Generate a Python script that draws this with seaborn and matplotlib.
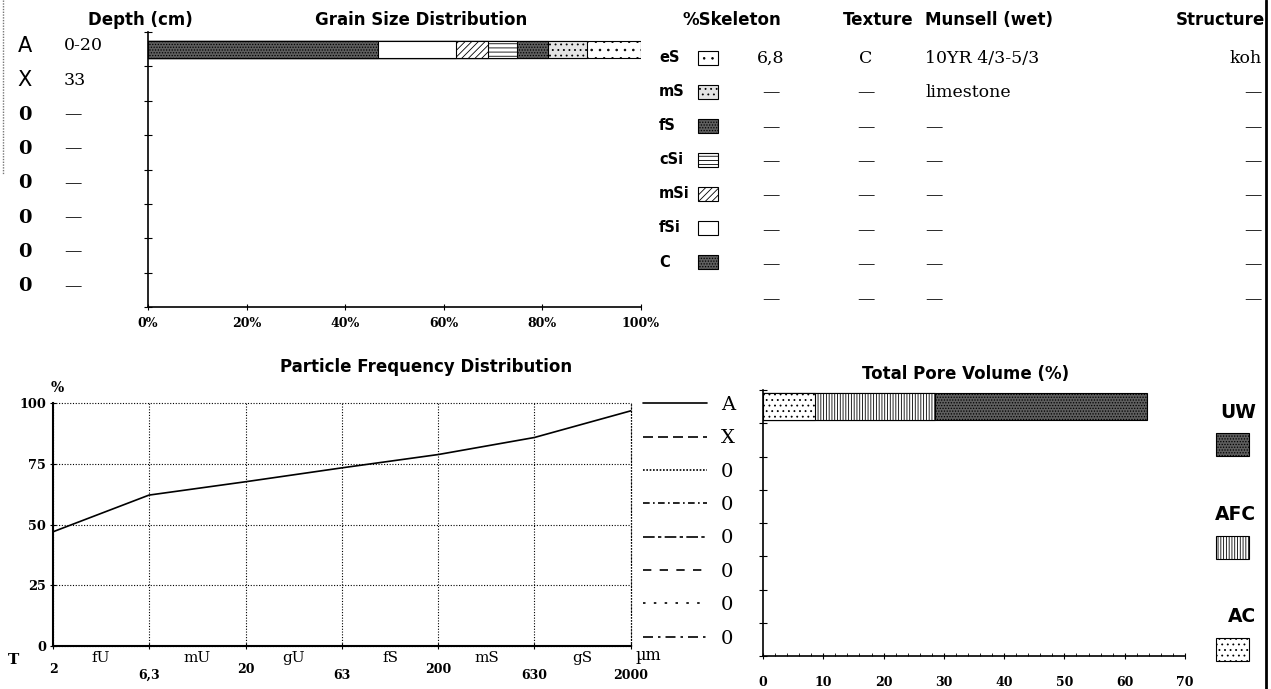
import numpy as np
import seaborn as sns
import matplotlib.pyplot as plt
import matplotlib.transforms as mtransforms
from matplotlib.patches import Rectangle
from matplotlib.lines import Line2D
from matplotlib.ticker import NullLocator

# profile table (one row per horizon)
horizons = ["A", "X", "0", "0", "0", "0", "0", "0"]
depths = ["0-20", "33", "—", "—", "—", "—", "—", "—"]
skeleton = ["6,8", "—", "—", "—", "—", "—", "—", "—"]
texture = ["C", "—", "—", "—", "—", "—", "—", "—"]
munsell = ["10YR 4/3-5/3", "limestone", "—", "—", "—", "—", "—", "—"]
structure = ["koh", "—", "—", "—", "—", "—", "—", "—"]

# grain size distribution of horizon A (%), clay first
fractions = ["C", "fSi", "mSi", "cSi", "fS", "mS", "eS"]
fraction_pct = [46.7, 15.8, 6.5, 5.9, 6.3, 7.9, 11.0]

# particle frequency distribution (cumulative %)
sizes = [2, 6.3, 20, 63, 200, 630, 2000]
size_labels = ["2", "6,3", "20", "63", "200", "630", "2000"]
size_classes = ["fU", "mU", "gU", "fS", "mS", "gS"]
series_names = ["A", "X", "0", "0", "0", "0", "0", "0"]
cum_A = [47.0, 62.1, 67.6, 73.3, 78.8, 85.8, 96.8]

# total pore volume of horizon A (%)
pore_names = ["AC", "AFC", "UW"]
pore_pct = [8.6, 19.9, 35.2]

sns.set_style("ticks")
SANS = ["DejaVu Sans"]
SERIF = ["DejaVu Serif"]
plt.rcParams["font.family"] = SERIF
plt.rcParams["text.color"] = "black"
plt.rcParams["xtick.color"] = "black"
plt.rcParams["ytick.color"] = "black"
plt.rcParams["hatch.linewidth"] = 0.6

W, H = 1271, 689
fig = plt.figure(figsize=(W / 100, H / 100), dpi=100)


def fx(p):
    return p / W


def fy(p):
    return 1 - p / H


# fill styles
grain_style = {
    "C": dict(color="#5e5e5e", hatch="......"),
    "fSi": dict(color="white", hatch=None),
    "mSi": dict(color="white", hatch="/////"),
    "cSi": dict(color="white", hatch="----"),
    "fS": dict(color="#5e5e5e", hatch="......"),
    "mS": dict(color="#e4e4e4", hatch="..."),
    "eS": dict(color="white", hatch=".."),
}
pore_style = {
    "AC": dict(color="white", hatch="..."),
    "AFC": dict(color="white", hatch="||||||"),
    "UW": dict(color="#5e5e5e", hatch="......"),
}

# ---- grain size distribution ----
ax1 = fig.add_axes([fx(148), fy(307), fx(493), 275 / H])
cum = np.cumsum(fraction_pct) / np.sum(fraction_pct) * 100
for name, c in reversed(list(zip(fractions, cum))):
    st = grain_style[name]
    sns.barplot(x=[c], y=[horizons[0]], orient="h", color=st["color"], hatch=st["hatch"],
                edgecolor="black", linewidth=0.8, width=0.5, saturation=1, ax=ax1)
ax1.set_xlim(0, 100)
ax1.set_ylim(7.5, -0.5)
ax1.set_yticks(np.arange(-0.5, 8, 1))
ax1.set_yticklabels([])
ax1.set_xticks([0, 20, 40, 60, 80, 100])
ax1.set_xticklabels([f"{v}%" for v in range(0, 101, 20)], fontfamily=SERIF,
                    fontweight="bold", fontsize=9)
ax1.tick_params(axis="y", direction="inout", length=6, width=0.8)
ax1.tick_params(axis="x", direction="inout", length=4, width=0.8, pad=5)
ax1.set(xlabel="", ylabel="")
sns.despine(ax=ax1)
for s in ["left", "bottom"]:
    ax1.spines[s].set_linewidth(1.2)
    ax1.spines[s].set_color("black")

# headers
hdr = dict(fontfamily=SANS, fontweight="bold", fontsize=12, va="center")
fig.text(fx(140), fy(20), "Depth (cm)", ha="center", **hdr)
fig.text(fx(421), fy(20), "Grain Size Distribution", ha="center", **hdr)
fig.text(fx(732), fy(20), "%Skeleton", ha="center", **hdr)
fig.text(fx(878), fy(20), "Texture", ha="center", **hdr)
fig.text(fx(925), fy(20), "Munsell (wet)", ha="left", **hdr)
fig.text(fx(1265), fy(20), "Structure", ha="right", **hdr)

# horizon and depth column (aligned to bar rows)
row_tr = mtransforms.blended_transform_factory(fig.transFigure, ax1.transData)
for k, (hz, d) in enumerate(zip(horizons, depths)):
    if hz.isalpha():
        fig.text(fx(25), k - 0.1, hz, transform=row_tr, ha="center", va="center",
                 fontfamily=SANS, fontsize=15)
    else:
        fig.text(fx(25), k - 0.1, hz, transform=row_tr, ha="center", va="center",
                 fontfamily=SERIF, fontweight="bold", fontsize=14)
    fig.text(fx(64), k - 0.1, d, transform=row_tr, ha="left", va="center",
             fontfamily=SERIF, fontsize=12.5)

# grain size legend
for k, name in enumerate(fractions[::-1]):
    yc = 58 + 34 * k
    fig.text(fx(659), fy(yc), name, ha="left", va="center", fontfamily=SANS,
             fontweight="bold", fontsize=10.5)
    st = grain_style[name]
    fig.add_artist(Rectangle((fx(698), fy(yc + 7)), fx(20), 14 / H, transform=fig.transFigure,
                             facecolor=st["color"], hatch=st["hatch"], edgecolor="black", lw=0.8))

# right table
for k in range(len(skeleton)):
    yc = k + 0.27
    kw = dict(transform=row_tr, va="center", fontfamily=SERIF, fontsize=12.5)
    fig.text(fx(771), yc, skeleton[k], ha="center", **kw)
    fig.text(fx(866), yc, texture[k], ha="center", **kw)
    fig.text(fx(925), yc, munsell[k], ha="left", **kw)
    fig.text(fx(1262), yc, structure[k], ha="right", **kw)

# ---- particle frequency distribution ----
ax2 = fig.add_axes([fx(53), fy(646), fx(578), 243 / H])
sns.lineplot(x=sizes, y=cum_A, color="black", linewidth=1.2, ax=ax2)
ax2.set_xscale("log")
ax2.set_xlim(sizes[0], sizes[-1])
ax2.set_ylim(0, 100)
ax2.xaxis.set_minor_locator(NullLocator())
ax2.set_xticks(sizes)
ax2.set_xticklabels(size_labels, fontfamily=SERIF, fontweight="bold", fontsize=9)
for i, lbl in enumerate(ax2.get_xticklabels()):
    if i % 2 == 1 or i == len(sizes) - 1:
        lbl.set_y(-0.025)
ax2.set_yticks([0, 25, 50, 75, 100])
ax2.set_yticklabels(["0", "25", "50", "75", "100"], fontfamily=SERIF, fontweight="bold",
                    fontsize=9.3)
ax2.tick_params(axis="x", direction="inout", length=4, pad=10)
ax2.tick_params(axis="y", direction="inout", length=4, pad=3)
grid_ls = (0, (1, 1.5))
ax2.grid(True, which="major", color="black", linestyle=grid_ls, linewidth=0.8)
for gl in ax2.get_xgridlines() + ax2.get_ygridlines():
    gl.set_clip_on(False)
ax2.axvline(sizes[-1], color="black", linestyle=grid_ls, linewidth=0.9, clip_on=False)
ax2.set(xlabel="", ylabel="")
sns.despine(ax=ax2)
for s in ["left", "bottom"]:
    ax2.spines[s].set_linewidth(1.5)
    ax2.spines[s].set_color("black")
    ax2.spines[s].set_zorder(3)
cls_tr = mtransforms.blended_transform_factory(ax2.transData, ax2.transAxes)
for lo, hi, name in zip(sizes[:-1], sizes[1:], size_classes):
    ax2.text(np.sqrt(lo * hi), -0.05, name, transform=cls_tr, ha="center", va="center",
             fontfamily=SERIF, fontsize=11)
fig.text(fx(14), fy(660), "T", ha="center", va="center", fontfamily=SERIF,
         fontweight="bold", fontsize=11)
fig.text(fx(57), fy(388), "%", ha="center", va="center", fontfamily=SERIF,
         fontweight="bold", fontsize=10)
fig.text(fx(635), fy(655), "µm", ha="left", va="center", fontfamily=SERIF, fontsize=11.5)
fig.text(fx(426), fy(367), "Particle Frequency Distribution", ha="center", **hdr)

dash_styles = ["-", (0, (6, 3)), (0, (1, 1)), (0, (4, 2, 1, 2)), (0, (7, 2, 2, 2)),
               (0, (5, 5)), (0, (1.5, 5)), (0, (6, 3, 1.5, 3))]
handles = [Line2D([], [], color="black", lw=1.2, ls=s) for s in dash_styles]
ax2.legend(handles, series_names, loc="upper left", bbox_to_anchor=(fx(643), fy(396)),
           bbox_transform=fig.transFigure, frameon=False, handlelength=3.3,
           handletextpad=0.7, labelspacing=0.79, borderaxespad=0, borderpad=0,
           prop=dict(family=SERIF, size=14))

# ---- total pore volume ----
ax3 = fig.add_axes([fx(763), fy(656), fx(422), 266 / H])
pore_cum = np.cumsum(pore_pct)
for name, c in reversed(list(zip(pore_names, pore_cum))):
    st = pore_style[name]
    sns.barplot(x=[c], y=[horizons[0]], orient="h", color=st["color"], hatch=st["hatch"],
                edgecolor="black", linewidth=0.8, width=0.8, saturation=1, ax=ax3)
ax3.set_xlim(0, 70)
ax3.set_ylim(7.5, -0.5)
ax3.set_yticks(np.arange(-0.5, 8, 1))
ax3.set_yticklabels([])
ax3.set_xticks(range(0, 71, 10))
ax3.set_xticklabels([str(v) for v in range(0, 71, 10)], fontfamily=SERIF,
                    fontweight="bold", fontsize=9)
ax3.set_xticks(range(0, 71, 2), minor=True)
ax3.tick_params(axis="y", direction="inout", length=6, width=0.8)
ax3.tick_params(axis="x", which="major", direction="inout", length=5, width=0.8, pad=12)
ax3.tick_params(axis="x", which="minor", direction="in", length=2, width=0.6)
ax3.set(xlabel="", ylabel="")
sns.despine(ax=ax3)
for s in ["left", "bottom"]:
    ax3.spines[s].set_linewidth(1.2)
    ax3.spines[s].set_color("black")
fig.text(fx(966), fy(374), "Total Pore Volume (%)", ha="center", **hdr)

# pore legend (label above swatch)
for name, yl in zip(["UW", "AFC", "AC"], [412, 515, 617]):
    fig.text(fx(1256), fy(yl), name, ha="right", va="center", fontfamily=SANS,
             fontweight="bold", fontsize=13.5)
    st = pore_style[name]
    fig.add_artist(Rectangle((fx(1216), fy(yl + 44)), fx(33), 23 / H, transform=fig.transFigure,
                             facecolor=st["color"], hatch=st["hatch"], edgecolor="black", lw=0.8))

# page borders of the scan
fig.add_artist(Line2D([fx(1266), fx(1266)], [0, 1], transform=fig.transFigure,
                      color="black", lw=2))
fig.add_artist(Line2D([fx(3), fx(3)], [fy(0), fy(175)], transform=fig.transFigure,
                      color="#777777", lw=1, ls=(0, (1, 1))))

fig.savefig("out.png", dpi=100)
